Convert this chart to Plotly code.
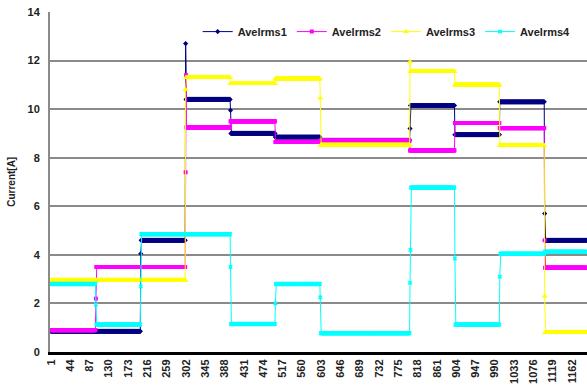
import plotly.graph_objects as go

# Sample index runs 1..N (one reading per step)
n_points = 1195
tick_labels = list(range(1, 1163, 43))  # 1, 44, 87, ..., 1162

# Each series is a step signal: one level per block of samples
block_starts = [1, 101, 201, 301, 401, 501, 601, 701, 801, 901, 1001, 1101]

levels1 = [0.85, 0.85, 4.6, 10.4, 9.0, 8.85, 8.72, 8.72, 10.15, 8.95, 10.3, 4.6]
levels2 = [0.9, 3.5, 3.5, 9.25, 9.5, 8.65, 8.7, 8.7, 8.3, 9.43, 9.22, 3.47]
levels3 = [2.95, 2.95, 2.95, 11.3, 11.05, 11.25, 8.52, 8.52, 11.55, 11.0, 8.5, 0.8]
levels4 = [2.8, 1.13, 4.85, 4.85, 1.15, 2.8, 0.77, 0.77, 6.77, 1.13, 4.05, 4.13]

# Readings taken while the load was switching: (sample index, value)
switch1 = [(201, 4.05), (301, 12.7), (401, 9.95), (801, 9.2), (1101, 5.7)]
switch2 = [(101, 2.2), (301, 7.4), (302, 11.4), (1101, 4.6)]
switch3 = [(301, 10.8), (601, 10.45), (801, 11.95), (1101, 2.3)]
switch4 = [(101, 1.95), (201, 2.7), (401, 3.5), (501, 2.0), (601, 2.25),
           (801, 2.85), (802, 4.2), (901, 3.85), (1001, 3.1)]

names = ["Avelrms1", "Avelrms2", "Avelrms3", "Avelrms4"]
colors = ["#000080", "#FF00FF", "#FFFF00", "#00FFFF"]
symbols = ["diamond", "square", "triangle-up", "x"]
marker_sizes = [4, 4, 5.5, 4]


def build_series(levels, switches):
    ys = []
    for i in range(1, n_points + 1):
        k = max(j for j, s in enumerate(block_starts) if s <= i)
        ys.append(levels[k])
    for idx, val in switches:
        ys[idx - 1] = val
    return ys


x = list(range(1, n_points + 1))
series = [build_series(levels1, switch1), build_series(levels2, switch2),
          build_series(levels3, switch3), build_series(levels4, switch4)]

fig = go.Figure()
for name, ys, col, sym, ms in zip(names, series, colors, symbols, marker_sizes):
    fig.add_trace(go.Scatter(
        x=x, y=ys, name=name, mode="lines+markers",
        line=dict(color=col, width=1),
        marker=dict(color=col, symbol=sym, size=ms, line=dict(width=0)),
    ))

bold = dict(family="Arial, Liberation Sans, sans-serif", size=11, color="#222", weight="bold")

fig.update_layout(
    width=587, height=390,
    margin=dict(l=50, r=0, t=12, b=38),
    paper_bgcolor="white", plot_bgcolor="white",
    showlegend=True,
    legend=dict(orientation="h", x=0.275, y=0.985, xanchor="left", yanchor="top",
                font=bold, bgcolor="rgba(0,0,0,0)", itemwidth=30,
                tracegroupgap=0),
    xaxis=dict(
        range=[-1.23, 1195.3],
        tickmode="array", tickvals=tick_labels, ticktext=[str(t) for t in tick_labels],
        tickangle=-90, tickfont=bold, ticks="", showgrid=False, zeroline=False,
        showline=True, linecolor="black", linewidth=3,
    ),
    yaxis=dict(
        range=[0, 14], dtick=2, tickfont=bold, ticks="", ticklabelstandoff=6,
        showgrid=True, gridcolor="#8a8a8a", gridwidth=2, zeroline=False,
        showline=True, linecolor="#8a8a8a", linewidth=2,
    ),
    annotations=[dict(
        text="Current[A]", textangle=-90, xref="paper", yref="paper",
        x=-0.073, y=0.5, xanchor="center", yanchor="middle", showarrow=False,
        font=dict(family="Arial, Liberation Sans, sans-serif", size=10, color="#222", weight="bold"),
    )],
)

fig.write_html("out.html")
